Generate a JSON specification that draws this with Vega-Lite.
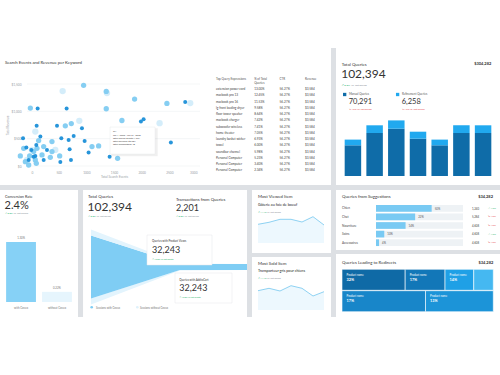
{
 "$schema": "https://vega.github.io/schema/vega-lite/v6.json",
 "padding": 0,
 "background": "#dde0e4",
 "spacing": 5,
 "resolve": {"scale": {"color": "independent", "size": "independent"}},
 "config": {
  "view": {"stroke": null, "fill": "#ffffff"},
  "font": "Lato",
  "text": {"font": "Lato", "align": "left", "baseline": "middle", "color": "#333333"},
  "axis": {"grid": false, "domain": false, "ticks": false, "labelFont": "Lato", "titleFont": "Lato"}
 },
 "vconcat": [
  {"spacing": 0, "resolve": {"scale": {"color": "independent", "size": "independent"}}, "hconcat": [
   {
    "width": 336, "height": 185,
    "resolve": {"scale": {"x": "independent", "y": "independent"}, "axis": {"x": "independent", "y": "independent"}},
    "layer": [
     {"layer": [
      {"data": {"values": [{"v": 0}, {"v": 500}, {"v": 1000}, {"v": 1500}]},
       "mark": {"type": "rule", "color": "#e9ecef", "strokeWidth": 0.5},
       "encoding": {
        "x": {"datum": -72, "type": "quantitative", "scale": {"domain": [0, 3000], "range": [31, 197], "nice": false, "zero": false}},
        "x2": {"datum": 3054},
        "y": {"field": "v", "type": "quantitative", "scale": {"domain": [0, 1500], "range": [166, 84], "nice": false, "zero": false}}
       }},
      {"data": {"values": [
        {"e": 572, "r": 1371, "k": "big"}, {"e": 2878, "r": 1151, "k": "big"}, {"e": 2324, "r": 783, "k": "big"}, {"e": 873, "r": 826, "k": "big"}, {"e": 78, "r": 630, "k": "big"}, {"e": 18, "r": 294, "k": "big"}, {"e": 439, "r": 294, "k": "big"}, {"e": -72, "r": 110, "k": "big"}, {"e": 1373, "r": 1334, "k": "big"},
        {"e": 951, "r": 1475, "k": "mid"}, {"e": 1360, "r": 1365, "k": "mid"}, {"e": 1872, "r": 1224, "k": "mid"}, {"e": 2456, "r": 1144, "k": "mid"}, {"e": -12, "r": 1059, "k": "mid"}, {"e": 1360, "r": 1047, "k": "mid"}, {"e": 1643, "r": 832, "k": "mid"}, {"e": 728, "r": 777, "k": "mid"}, {"e": 620, "r": 734, "k": "mid"}, {"e": 138, "r": 465, "k": "mid"}, {"e": 379, "r": 447, "k": "mid"}, {"e": 229, "r": 355, "k": "mid"}, {"e": -132, "r": 324, "k": "mid"}, {"e": 48, "r": 263, "k": "mid"}, {"e": -193, "r": 184, "k": "mid"}, {"e": -24, "r": 184, "k": "mid"}, {"e": 199, "r": 202, "k": "mid"}, {"e": 349, "r": 159, "k": "mid"}, {"e": 518, "r": 184, "k": "mid"}, {"e": 78, "r": 110, "k": "mid"}, {"e": -102, "r": 80, "k": "mid"}, {"e": 1102, "r": 355, "k": "mid"}, {"e": 1222, "r": 367, "k": "mid"}, {"e": 1565, "r": 141, "k": "mid"}, {"e": -42, "r": 18, "k": "mid"}, {"e": 108, "r": 324, "k": "mid"}, {"e": 379, "r": 263, "k": "mid"}, {"e": 96, "r": 49, "k": "mid"},
        {"e": 2787, "r": 1169, "k": "dot"}, {"e": 120, "r": 1053, "k": "dot"}, {"e": 644, "r": 1053, "k": "dot"}, {"e": 2035, "r": 857, "k": "dot"}, {"e": 1987, "r": 814, "k": "dot"}, {"e": 102, "r": 734, "k": "dot"}, {"e": 470, "r": 734, "k": "dot"}, {"e": 921, "r": 692, "k": "dot"}, {"e": -144, "r": 508, "k": "dot"}, {"e": 169, "r": 539, "k": "dot"}, {"e": 548, "r": 508, "k": "dot"}, {"e": 680, "r": 477, "k": "dot"}, {"e": 771, "r": 551, "k": "dot"}, {"e": 969, "r": 459, "k": "dot"}, {"e": -84, "r": 337, "k": "dot"}, {"e": 96, "r": 386, "k": "dot"}, {"e": 698, "r": 306, "k": "dot"}, {"e": 1041, "r": 245, "k": "dot"}, {"e": 1421, "r": 171, "k": "dot"}, {"e": 722, "r": 110, "k": "dot"}, {"e": 530, "r": 73, "k": "dot"}, {"e": 2528, "r": 428, "k": "dot"}, {"e": 48, "r": 171, "k": "dot"}, {"e": 229, "r": 110, "k": "dot"}, {"e": 6, "r": 294, "k": "dot"}, {"e": 78, "r": 184, "k": "dot"}, {"e": 289, "r": 294, "k": "dot"}, {"e": -42, "r": 110, "k": "dot"}
       ]},
       "mark": {"type": "circle", "opacity": 0.95, "clip": true},
       "encoding": {
        "x": {"field": "e", "type": "quantitative", "scale": {"domain": [0, 3000], "range": [31, 197], "nice": false, "zero": false},
              "axis": {"values": [0, 500, 1000, 1500, 2000, 2500, 3000], "format": "d", "offset": -16, "labelPadding": 1, "labelFontSize": 3.2, "labelColor": "#9aa0a6", "title": "Total Search Events", "titleFontSize": 3.2, "titleColor": "#9aa0a6", "titleFontWeight": "normal", "titlePadding": 1}},
        "y": {"field": "r", "type": "quantitative", "scale": {"domain": [0, 1500], "range": [166, 84], "nice": false, "zero": false},
              "axis": {"values": [0, 500, 1000, 1500], "format": "$,d", "offset": -22, "labelPadding": 1, "labelFontSize": 3.2, "labelColor": "#9aa0a6", "title": "Total Revenue", "titleFontSize": 3.2, "titleColor": "#9aa0a6", "titleFontWeight": "normal", "titlePadding": 2}},
        "color": {"field": "k", "type": "nominal", "scale": {"domain": ["big", "mid", "dot"], "range": ["#d2ecfa", "#7fcbf1", "#1b8fd8"]}, "legend": null},
        "size": {"field": "k", "type": "ordinal", "scale": {"domain": ["big", "mid", "dot"], "range": [40, 16, 5]}, "legend": null}
       }},
      {"data": {"values": [{}]},
       "mark": {"type": "rect", "fill": "#000000", "opacity": 0.06},
       "encoding": {
        "x": {"datum": 1450, "type": "quantitative", "scale": {"domain": [0, 3000], "range": [31, 197], "nice": false, "zero": false}},
        "x2": {"datum": 2290},
        "y": {"datum": 180, "type": "quantitative", "scale": {"domain": [0, 1500], "range": [166, 84], "nice": false, "zero": false}},
        "y2": {"datum": 690}
       }},
      {"data": {"values": [{}]},
       "mark": {"type": "rect", "fill": "#ffffff", "stroke": "#e3e6e9", "strokeWidth": 0.4},
       "encoding": {
        "x": {"datum": 1428, "type": "quantitative", "scale": {"domain": [0, 3000], "range": [31, 197], "nice": false, "zero": false}},
        "x2": {"datum": 2241},
        "y": {"datum": 219, "type": "quantitative", "scale": {"domain": [0, 1500], "range": [166, 84], "nice": false, "zero": false}},
        "y2": {"datum": 713}
       }},
      {"data": {"values": [{}]},
       "mark": {"type": "rect", "fill": "#dde0e4"},
       "encoding": {
        "x": {"datum": 5422, "type": "quantitative", "scale": {"domain": [0, 3000], "range": [31, 197], "nice": false, "zero": false}},
        "x2": {"datum": 5512},
        "y": {"datum": -347, "type": "quantitative", "scale": {"domain": [0, 1500], "range": [166, 84], "nice": false, "zero": false}},
        "y2": {"datum": 2159}
       }},
      {"data": {"values": [{"t": "GA\n\nJan 1, 2020 - Jan 31, 2020\nTotal Search Events   1,234\nTotal Revenue   $3,584\nTotal Transactions   48"}]},
       "mark": {"type": "text", "fontSize": 2.4, "lineHeight": 3.2, "lineBreak": "\n", "baseline": "top", "color": "#444444"},
       "encoding": {
        "x": {"datum": 1480, "type": "quantitative", "scale": {"domain": [0, 3000], "range": [31, 197], "nice": false, "zero": false}},
        "y": {"datum": 650, "type": "quantitative", "scale": {"domain": [0, 1500], "range": [166, 84], "nice": false, "zero": false}},
        "text": {"field": "t"}
       }},
      {"data": {"values": [{"t": "Search Events and Revenue per Keyword"}]},
       "mark": {"type": "text", "fontSize": 4.3, "color": "#333333"},
       "encoding": {
        "x": {"datum": -470, "type": "quantitative", "scale": {"domain": [0, 3000], "range": [31, 197], "nice": false, "zero": false}},
        "y": {"datum": 1884, "type": "quantitative", "scale": {"domain": [0, 1500], "range": [166, 84], "nice": false, "zero": false}},
        "text": {"field": "t"}
       }}
     ]},
     {"layer": [
      {"data": {"values": [{"rank": 0, "c": "name", "t": "Top Query Expressions"}, {"rank": 0, "c": "pct", "t": "% of Total\nQueries"}, {"rank": 0, "c": "ctr", "t": "CTR"}, {"rank": 0, "c": "rev", "t": "Revenue"}]},
       "mark": {"type": "text", "fontSize": 3, "color": "#555555", "baseline": "top", "dy": -4.6, "lineBreak": "\n", "lineHeight": 3.4},
       "encoding": {
        "x": {"field": "c", "type": "nominal", "scale": {"type": "point", "domain": ["name", "s1", "s2", "pct", "s3", "ctr", "s4", "rev"], "range": [216, 305], "padding": 0}, "axis": null},
        "y": {"field": "rank", "type": "ordinal", "scale": {"type": "point", "domain": [0, 1, 2, 3, 4, 5, 6, 7, 8, 9, 10, 11, 12, 13, 14], "range": [83, 170.3], "padding": 0}, "axis": null},
        "text": {"field": "t"}
       }},
      {"data": {"values": [
        {"rank": 1, "name": "extension power cord", "pct": "13.00%", "ctr": "56.27%", "rev": "$3,584"},
        {"rank": 2, "name": "macbook pro 13", "pct": "12.45%", "ctr": "56.27%", "rev": "$3,584"},
        {"rank": 3, "name": "macbook pro 16", "pct": "11.53%", "ctr": "56.27%", "rev": "$3,584"},
        {"rank": 4, "name": "lg front loading dryer", "pct": "9.58%", "ctr": "56.27%", "rev": "$3,584"},
        {"rank": 5, "name": "floor tower speaker", "pct": "8.64%", "ctr": "56.27%", "rev": "$3,584"},
        {"rank": 6, "name": "macbook charger", "pct": "7.42%", "ctr": "56.27%", "rev": "$3,584"},
        {"rank": 7, "name": "subwoofer wireless", "pct": "7.41%", "ctr": "56.27%", "rev": "$3,584"},
        {"rank": 8, "name": "home theater", "pct": "7.05%", "ctr": "56.27%", "rev": "$3,584"},
        {"rank": 9, "name": "laundry basket wicker", "pct": "6.93%", "ctr": "56.27%", "rev": "$3,584"},
        {"rank": 10, "name": "towel", "pct": "6.00%", "ctr": "56.27%", "rev": "$3,584"},
        {"rank": 11, "name": "soundbar channel", "pct": "5.98%", "ctr": "56.27%", "rev": "$3,584"},
        {"rank": 12, "name": "Personal Computer", "pct": "5.23%", "ctr": "56.27%", "rev": "$3,584"},
        {"rank": 13, "name": "Personal Computer", "pct": "3.40%", "ctr": "56.27%", "rev": "$3,584"},
        {"rank": 14, "name": "Personal Computer", "pct": "2.34%", "ctr": "56.27%", "rev": "$3,584"}
       ]},
       "transform": [{"fold": ["name", "pct", "ctr", "rev"], "as": ["c", "t"]}],
       "mark": {"type": "text", "fontSize": 3.1, "color": "#444444"},
       "encoding": {
        "x": {"field": "c", "type": "nominal", "scale": {"type": "point", "domain": ["name", "s1", "s2", "pct", "s3", "ctr", "s4", "rev"], "range": [216, 305], "padding": 0}, "axis": null},
        "y": {"field": "rank", "type": "ordinal", "scale": {"type": "point", "domain": [0, 1, 2, 3, 4, 5, 6, 7, 8, 9, 10, 11, 12, 13, 14], "range": [83, 170.3], "padding": 0}, "axis": null},
        "text": {"field": "t"}
       }}
     ]}
    ]
   },
   {
    "width": 164, "height": 185,
    "layer": [
     {"data": {"values": [
       {"d": "Mon", "t": "Manual Queries", "q": 7675, "o": 1}, {"d": "Mon", "t": "Refinement Queries", "q": 1425, "o": 2},
       {"d": "Tue", "t": "Manual Queries", "q": 10750, "o": 1}, {"d": "Tue", "t": "Refinement Queries", "q": 1925, "o": 2},
       {"d": "Wed", "t": "Manual Queries", "q": 11825, "o": 1}, {"d": "Wed", "t": "Refinement Queries", "q": 2075, "o": 2},
       {"d": "Thu", "t": "Manual Queries", "q": 9325, "o": 1}, {"d": "Thu", "t": "Refinement Queries", "q": 1750, "o": 2},
       {"d": "Fri", "t": "Manual Queries", "q": 7675, "o": 1}, {"d": "Fri", "t": "Refinement Queries", "q": 1425, "o": 2},
       {"d": "Sat", "t": "Manual Queries", "q": 10750, "o": 1}, {"d": "Sat", "t": "Refinement Queries", "q": 1925, "o": 2},
       {"d": "Sun", "t": "Manual Queries", "q": 10750, "o": 1}, {"d": "Sun", "t": "Refinement Queries", "q": 1925, "o": 2}
      ]},
      "mark": {"type": "bar"},
      "encoding": {
       "x": {"field": "d", "type": "ordinal", "scale": {"type": "band", "domain": ["Mon", "Tue", "Wed", "Thu", "Fri", "Sat", "Sun"], "paddingInner": 0.24, "paddingOuter": 0.4}, "axis": null},
       "y": {"field": "q", "type": "quantitative", "stack": "zero", "scale": {"domain": [-2250, 44000], "nice": false, "zero": false}, "axis": null},
       "color": {"field": "t", "type": "nominal", "scale": {"domain": ["Manual Queries", "Refinement Queries"], "range": ["#0f6ca8", "#21a9ef"]}, "legend": null},
       "order": {"field": "o", "type": "quantitative"}
      }},
     {"data": {"values": [{"t": "Total Queries"}]}, "mark": {"type": "text", "fontSize": 4.3, "dx": -3},
      "encoding": {"x": {"datum": "Mon", "type": "ordinal", "bandPosition": 0}, "y": {"datum": 27750, "type": "quantitative"}, "text": {"field": "t"}}},
     {"data": {"values": [{"t": "$304,282"}]}, "mark": {"type": "text", "fontSize": 4, "fontWeight": "bold", "align": "right"},
      "encoding": {"x": {"datum": "Sun", "type": "ordinal", "bandPosition": 1}, "y": {"datum": 28000, "type": "quantitative"}, "text": {"field": "t"}}},
     {"data": {"values": [{"t": "102,394"}]}, "mark": {"type": "text", "fontSize": 12, "dx": -3.5},
      "encoding": {"x": {"datum": "Mon", "type": "ordinal", "bandPosition": 0}, "y": {"datum": 25500, "type": "quantitative"}, "text": {"field": "t"}}},
     {"data": {"values": [{"t": "↗ 8.8%"}]}, "mark": {"type": "text", "fontSize": 2.6, "dx": -3, "color": "#2db36e"},
      "encoding": {"x": {"datum": "Mon", "type": "ordinal", "bandPosition": 0}, "y": {"datum": 22925, "type": "quantitative"}, "text": {"field": "t"}}},
     {"data": {"values": [{"t": "vs. last period"}]}, "mark": {"type": "text", "fontSize": 2.6, "dx": 6.5, "color": "#8a9096"},
      "encoding": {"x": {"datum": "Mon", "type": "ordinal", "bandPosition": 0}, "y": {"datum": 22925, "type": "quantitative"}, "text": {"field": "t"}}},
     {"data": {"values": [{"t": "Manual Queries"}]}, "mark": {"type": "square", "size": 11, "filled": true, "opacity": 1, "color": "#0f6ca8", "dx": 0.3},
      "encoding": {"x": {"datum": "Mon", "type": "ordinal", "bandPosition": 0}, "y": {"datum": 20375, "type": "quantitative"}}},
     {"data": {"values": [{"t": "Refinement Queries"}]}, "mark": {"type": "square", "size": 11, "filled": true, "opacity": 1, "color": "#21a9ef"},
      "encoding": {"x": {"datum": "Wed", "type": "ordinal", "bandPosition": 0.58}, "y": {"datum": 20375, "type": "quantitative"}}},
     {"data": {"values": [{"t": "Manual Queries"}]}, "mark": {"type": "text", "fontSize": 2.9, "dx": 4.3, "color": "#555555"},
      "encoding": {"x": {"datum": "Mon", "type": "ordinal", "bandPosition": 0}, "y": {"datum": 20500, "type": "quantitative"}, "text": {"field": "t"}}},
     {"data": {"values": [{"t": "Refinement Queries"}]}, "mark": {"type": "text", "fontSize": 2.9, "dx": 4.3, "color": "#555555"},
      "encoding": {"x": {"datum": "Wed", "type": "ordinal", "bandPosition": 0.58}, "y": {"datum": 20500, "type": "quantitative"}, "text": {"field": "t"}}},
     {"data": {"values": [{"t": "70,291"}]}, "mark": {"type": "text", "fontSize": 7.5, "dx": 4},
      "encoding": {"x": {"datum": "Mon", "type": "ordinal", "bandPosition": 0}, "y": {"datum": 18425, "type": "quantitative"}, "text": {"field": "t"}}},
     {"data": {"values": [{"t": "6,258"}]}, "mark": {"type": "text", "fontSize": 7.5, "dx": 4},
      "encoding": {"x": {"datum": "Wed", "type": "ordinal", "bandPosition": 0.58}, "y": {"datum": 18425, "type": "quantitative"}, "text": {"field": "t"}}},
     {"data": {"values": [{"t": "↘ 1.5% vs. last period"}]}, "mark": {"type": "text", "fontSize": 2.4, "dx": 4.3, "color": "#e5484d"},
      "encoding": {"x": {"datum": "Mon", "type": "ordinal", "bandPosition": 0}, "y": {"datum": 16675, "type": "quantitative"}, "text": {"field": "t"}}},
     {"data": {"values": [{"t": "↘ 1.5% vs. last period"}]}, "mark": {"type": "text", "fontSize": 2.4, "dx": 4.3, "color": "#e5484d"},
      "encoding": {"x": {"datum": "Wed", "type": "ordinal", "bandPosition": 0.58}, "y": {"datum": 16675, "type": "quantitative"}, "text": {"field": "t"}}}
    ]
   }
  ]},
  {"spacing": 0, "resolve": {"scale": {"color": "independent", "size": "independent"}}, "hconcat": [
   {
    "width": 78, "height": 185,
    "layer": [
     {"data": {"values": [{"c": "with Coveo", "v": 1.30, "lbl": "1.30%"}, {"c": "without Coveo", "v": 0.22, "lbl": "0.22%"}]},
      "mark": {"type": "bar"},
      "encoding": {
       "x": {"field": "c", "type": "nominal", "scale": {"type": "band", "domain": ["with Coveo", "without Coveo"], "paddingInner": 0.17, "paddingOuter": 0.17},
             "axis": {"orient": "bottom", "offset": -70, "labelPadding": 1.5, "labelFontSize": 2.8, "labelColor": "#777777", "title": null, "labelAngle": 0}},
       "y": {"field": "v", "type": "quantitative", "scale": {"domain": [-1.582, 2.427], "nice": false, "zero": false}, "axis": null},
       "color": {"field": "c", "type": "nominal", "scale": {"domain": ["with Coveo", "without Coveo"], "range": ["#86d1f6", "#e6f5fd"]}, "legend": null}
      }},
     {"data": {"values": [{"c": "with Coveo", "v": 1.30, "lbl": "1.30%"}, {"c": "without Coveo", "v": 0.22, "lbl": "0.22%"}]},
      "mark": {"type": "text", "fontSize": 2.8, "color": "#777777", "align": "center", "baseline": "bottom", "dy": -2.5},
      "encoding": {"x": {"field": "c", "type": "nominal"}, "y": {"field": "v", "type": "quantitative"}, "text": {"field": "lbl"}}},
     {"data": {"values": [{"t": "Conversion Rate"}]}, "mark": {"type": "text", "fontSize": 3.8, "dx": -1},
      "encoding": {"x": {"datum": "with Coveo", "type": "nominal", "bandPosition": 0}, "y": {"datum": 2.269, "type": "quantitative"}, "text": {"field": "t"}}},
     {"data": {"values": [{"t": "2.4%"}]}, "mark": {"type": "text", "fontSize": 11, "dx": -1.5},
      "encoding": {"x": {"datum": "with Coveo", "type": "nominal", "bandPosition": 0}, "y": {"datum": 2.084, "type": "quantitative"}, "text": {"field": "t"}}},
     {"data": {"values": [{"t": "↗ 8.8%"}]}, "mark": {"type": "text", "fontSize": 2.4, "dx": -1, "color": "#2db36e"},
      "encoding": {"x": {"datum": "with Coveo", "type": "nominal", "bandPosition": 0}, "y": {"datum": 1.922, "type": "quantitative"}, "text": {"field": "t"}}},
     {"data": {"values": [{"t": "vs. last period"}]}, "mark": {"type": "text", "fontSize": 2.4, "dx": 7.5, "color": "#8a9096"},
      "encoding": {"x": {"datum": "with Coveo", "type": "nominal", "bandPosition": 0}, "y": {"datum": 1.922, "type": "quantitative"}, "text": {"field": "t"}}}
    ]
   },
   {
    "width": 169, "height": 185,
    "layer": [
     {"data": {"values": [
       {"s": 0, "p": "without (upper)", "v": 6, "o": 1}, {"s": 0, "p": "with", "v": 63, "o": 2}, {"s": 0, "p": "without (lower)", "v": 6, "o": 3},
       {"s": 1.14, "p": "without (upper)", "v": 0.5, "o": 1}, {"s": 1.14, "p": "with", "v": 6, "o": 2}, {"s": 1.14, "p": "without (lower)", "v": 0.5, "o": 3},
       {"s": 2, "p": "without (upper)", "v": 0, "o": 1}, {"s": 2, "p": "with", "v": 6, "o": 2}, {"s": 2, "p": "without (lower)", "v": 0, "o": 3}
      ]},
      "mark": {"type": "area"},
      "encoding": {
       "x": {"field": "s", "type": "quantitative", "scale": {"domain": [0, 2], "range": [13, 169], "nice": false, "zero": false}, "axis": null},
       "y": {"field": "v", "type": "quantitative", "stack": "center", "scale": {"domain": [-70.5, 114.5], "nice": false, "zero": false}, "axis": null},
       "color": {"field": "p", "type": "nominal", "scale": {"domain": ["without (upper)", "with", "without (lower)"], "range": ["#e3f4fd", "#7fcdf4", "#e3f4fd"]}, "legend": null},
       "order": {"field": "o", "type": "quantitative"}
      }},
     {"data": {"values": [{}]}, "mark": {"type": "rect", "fill": "#dde0e4"},
      "encoding": {"x": {"datum": -0.1666, "type": "quantitative"}, "x2": {"datum": -0.102}, "y": {"datum": -12.5, "type": "quantitative"}, "y2": {"datum": 114.5}}},
     {"data": {"values": [{}]}, "mark": {"type": "rect", "fill": "#ffffff", "stroke": "#e4e7ea", "strokeWidth": 0.5},
      "encoding": {"x": {"datum": 0.718, "type": "quantitative"}, "x2": {"datum": 1.551}, "y": {"datum": 69.5, "type": "quantitative"}, "y2": {"datum": 39.5}}},
     {"data": {"values": [{}]}, "mark": {"type": "rect", "fill": "#ffffff", "stroke": "#e4e7ea", "strokeWidth": 0.5},
      "encoding": {"x": {"datum": 1.077, "type": "quantitative"}, "x2": {"datum": 1.808}, "y": {"datum": 31.5, "type": "quantitative"}, "y2": {"datum": 1.5}}},
     {"data": {"values": [{"t": "Total Queries"}]}, "mark": {"type": "text", "fontSize": 4.3},
      "encoding": {"x": {"datum": -0.038, "type": "quantitative"}, "y": {"datum": 107.8, "type": "quantitative"}, "text": {"field": "t"}}},
     {"data": {"values": [{"t": "102,394"}]}, "mark": {"type": "text", "fontSize": 12, "dx": -0.5},
      "encoding": {"x": {"datum": -0.038, "type": "quantitative"}, "y": {"datum": 97.2, "type": "quantitative"}, "text": {"field": "t"}}},
     {"data": {"values": [{"t": "↗ 8.8%"}]}, "mark": {"type": "text", "fontSize": 2.4, "color": "#2db36e"},
      "encoding": {"x": {"datum": -0.038, "type": "quantitative"}, "y": {"datum": 87.8, "type": "quantitative"}, "text": {"field": "t"}}},
     {"data": {"values": [{"t": "vs. last period"}]}, "mark": {"type": "text", "fontSize": 2.4, "dx": 8.5, "color": "#8a9096"},
      "encoding": {"x": {"datum": -0.038, "type": "quantitative"}, "y": {"datum": 87.8, "type": "quantitative"}, "text": {"field": "t"}}},
     {"data": {"values": [{"t": "Transactions from Queries"}]}, "mark": {"type": "text", "fontSize": 4.3},
      "encoding": {"x": {"datum": 1.09, "type": "quantitative"}, "y": {"datum": 104.5, "type": "quantitative"}, "text": {"field": "t"}}},
     {"data": {"values": [{"t": "2,201"}]}, "mark": {"type": "text", "fontSize": 9},
      "encoding": {"x": {"datum": 1.09, "type": "quantitative"}, "y": {"datum": 96.2, "type": "quantitative"}, "text": {"field": "t"}}},
     {"data": {"values": [{"t": "↗ 8.8%"}]}, "mark": {"type": "text", "fontSize": 2.4, "color": "#2db36e"},
      "encoding": {"x": {"datum": 1.09, "type": "quantitative"}, "y": {"datum": 87.8, "type": "quantitative"}, "text": {"field": "t"}}},
     {"data": {"values": [{"t": "vs. last period"}]}, "mark": {"type": "text", "fontSize": 2.4, "dx": 8.5, "color": "#8a9096"},
      "encoding": {"x": {"datum": 1.09, "type": "quantitative"}, "y": {"datum": 87.8, "type": "quantitative"}, "text": {"field": "t"}}},
     {"data": {"values": [{"t": "Queries with Product Views"}]}, "mark": {"type": "text", "fontSize": 2.8},
      "encoding": {"x": {"datum": 0.782, "type": "quantitative"}, "y": {"datum": 63.8, "type": "quantitative"}, "text": {"field": "t"}}},
     {"data": {"values": [{"t": "32,243"}]}, "mark": {"type": "text", "fontSize": 9},
      "encoding": {"x": {"datum": 0.782, "type": "quantitative"}, "y": {"datum": 54.5, "type": "quantitative"}, "text": {"field": "t"}}},
     {"data": {"values": [{"t": "↗ 12.8% vs last month"}]}, "mark": {"type": "text", "fontSize": 2.2, "color": "#2db36e"},
      "encoding": {"x": {"datum": 0.782, "type": "quantitative"}, "y": {"datum": 45.2, "type": "quantitative"}, "text": {"field": "t"}}},
     {"data": {"values": [{"t": "Queries with AddtoCart"}]}, "mark": {"type": "text", "fontSize": 2.8},
      "encoding": {"x": {"datum": 1.132, "type": "quantitative"}, "y": {"datum": 25.2, "type": "quantitative"}, "text": {"field": "t"}}},
     {"data": {"values": [{"t": "32,243"}]}, "mark": {"type": "text", "fontSize": 9},
      "encoding": {"x": {"datum": 1.132, "type": "quantitative"}, "y": {"datum": 16.2, "type": "quantitative"}, "text": {"field": "t"}}},
     {"data": {"values": [{"t": "↗ 12.8% vs last month"}]}, "mark": {"type": "text", "fontSize": 2.2, "color": "#2db36e"},
      "encoding": {"x": {"datum": 1.132, "type": "quantitative"}, "y": {"datum": 7.2, "type": "quantitative"}, "text": {"field": "t"}}},
     {"data": {"values": [{"t": "Sessions with Coveo"}]}, "mark": {"type": "circle", "size": 7, "color": "#7fcdf4", "opacity": 1},
      "encoding": {"x": {"datum": 0.009, "type": "quantitative"}, "y": {"datum": -2.8, "type": "quantitative"}}},
     {"data": {"values": [{"t": "Sessions without Coveo"}]}, "mark": {"type": "circle", "size": 7, "color": "#dff1fb", "opacity": 1},
      "encoding": {"x": {"datum": 0.594, "type": "quantitative"}, "y": {"datum": -2.8, "type": "quantitative"}}},
     {"data": {"values": [{"t": "Sessions with Coveo"}]}, "mark": {"type": "text", "fontSize": 2.7, "color": "#777777"},
      "encoding": {"x": {"datum": 0.064, "type": "quantitative"}, "y": {"datum": -2.8, "type": "quantitative"}, "text": {"field": "t"}}},
     {"data": {"values": [{"t": "Sessions without Coveo"}]}, "mark": {"type": "text", "fontSize": 2.7, "color": "#777777"},
      "encoding": {"x": {"datum": 0.628, "type": "quantitative"}, "y": {"datum": -2.8, "type": "quantitative"}, "text": {"field": "t"}}}
    ]
   },
   {"spacing": 4, "resolve": {"scale": {"color": "independent", "size": "independent"}}, "vconcat": [
    {
     "width": 89, "height": 63,
     "layer": [
      {"data": {"values": [{"i": 0, "v": 18.7}, {"i": 1, "v": 20.7}, {"i": 2, "v": 23.7}, {"i": 3, "v": 23.7}, {"i": 4, "v": 21}, {"i": 5, "v": 26.3}, {"i": 6, "v": 18}]},
       "mark": {"type": "area", "color": "#e6f5fd", "line": {"color": "#74c7ef", "strokeWidth": 0.8}},
       "encoding": {
        "x": {"field": "i", "type": "quantitative", "scale": {"domain": [0, 6], "range": [11, 77], "nice": false, "zero": false}, "axis": null},
        "y": {"field": "v", "type": "quantitative", "scale": {"domain": [-10, 53], "nice": false, "zero": false}, "axis": null}
       }},
      {"data": {"values": [{}]}, "mark": {"type": "rect", "fill": "#dde0e4"},
       "encoding": {"x": {"datum": -0.9995, "type": "quantitative"}, "x2": {"datum": -0.545}, "y": {"datum": -10, "type": "quantitative"}, "y2": {"datum": 53}}},
      {"data": {"values": [{}]}, "mark": {"type": "rect", "fill": "#dde0e4"},
       "encoding": {"x": {"datum": 6.636, "type": "quantitative"}, "x2": {"datum": 7.0905}, "y": {"datum": -10, "type": "quantitative"}, "y2": {"datum": 53}}},
      {"data": {"values": [{"t": "Most Viewed Item"}]}, "mark": {"type": "text", "fontSize": 4.3},
       "encoding": {"x": {"datum": 0, "type": "quantitative"}, "y": {"datum": 45.7, "type": "quantitative"}, "text": {"field": "t"}}},
      {"data": {"values": [{"t": "Gâterie au foie de boeuf"}]}, "mark": {"type": "text", "fontSize": 3.7, "color": "#222222"},
       "encoding": {"x": {"datum": 0, "type": "quantitative"}, "y": {"datum": 38, "type": "quantitative"}, "text": {"field": "t"}}},
      {"data": {"values": [{"t": "↗ 14.4%"}]}, "mark": {"type": "text", "fontSize": 2.3, "color": "#2db36e"},
       "encoding": {"x": {"datum": 0, "type": "quantitative"}, "y": {"datum": 30.3, "type": "quantitative"}, "text": {"field": "t"}}},
      {"data": {"values": [{"t": "vs. last period"}]}, "mark": {"type": "text", "fontSize": 2.3, "dx": 9, "color": "#8a9096"},
       "encoding": {"x": {"datum": 0, "type": "quantitative"}, "y": {"datum": 30.3, "type": "quantitative"}, "text": {"field": "t"}}}
     ]
    },
    {
     "width": 89, "height": 118,
     "layer": [
      {"data": {"values": [{"i": 0, "v": 19.3}, {"i": 1, "v": 21.7}, {"i": 2, "v": 19}, {"i": 3, "v": 24.3}, {"i": 4, "v": 21.7}, {"i": 5, "v": 14}, {"i": 6, "v": 18.3}]},
       "mark": {"type": "area", "color": "#e6f5fd", "line": {"color": "#74c7ef", "strokeWidth": 0.8}},
       "encoding": {
        "x": {"field": "i", "type": "quantitative", "scale": {"domain": [0, 6], "range": [11, 77], "nice": false, "zero": false}, "axis": null},
        "y": {"field": "v", "type": "quantitative", "scale": {"domain": [-65, 53], "nice": false, "zero": false}, "axis": null}
       }},
      {"data": {"values": [{}]}, "mark": {"type": "rect", "fill": "#dde0e4"},
       "encoding": {"x": {"datum": -0.9995, "type": "quantitative"}, "x2": {"datum": -0.545}, "y": {"datum": -7, "type": "quantitative"}, "y2": {"datum": 53}}},
      {"data": {"values": [{}]}, "mark": {"type": "rect", "fill": "#dde0e4"},
       "encoding": {"x": {"datum": 6.636, "type": "quantitative"}, "x2": {"datum": 7.0905}, "y": {"datum": -7, "type": "quantitative"}, "y2": {"datum": 53}}},
      {"data": {"values": [{"t": "Most Sold Item"}]}, "mark": {"type": "text", "fontSize": 4.3},
       "encoding": {"x": {"datum": 0, "type": "quantitative"}, "y": {"datum": 46, "type": "quantitative"}, "text": {"field": "t"}}},
      {"data": {"values": [{"t": "Transporteur gris pour chiens"}]}, "mark": {"type": "text", "fontSize": 3.7, "color": "#222222"},
       "encoding": {"x": {"datum": 0, "type": "quantitative"}, "y": {"datum": 39.3, "type": "quantitative"}, "text": {"field": "t"}}},
      {"data": {"values": [{"t": "↗ 14.4%"}]}, "mark": {"type": "text", "fontSize": 2.3, "color": "#2db36e"},
       "encoding": {"x": {"datum": 0, "type": "quantitative"}, "y": {"datum": 31.7, "type": "quantitative"}, "text": {"field": "t"}}},
      {"data": {"values": [{"t": "vs. last period"}]}, "mark": {"type": "text", "fontSize": 2.3, "dx": 9, "color": "#8a9096"},
       "encoding": {"x": {"datum": 0, "type": "quantitative"}, "y": {"datum": 31.7, "type": "quantitative"}, "text": {"field": "t"}}}
     ]
    }
   ]},
   {"spacing": 4, "resolve": {"scale": {"color": "independent", "size": "independent"}}, "vconcat": [
    {
     "width": 164, "height": 60,
     "layer": [
      {"data": {"values": [{"cat": "Chien"}, {"cat": "Chat"}, {"cat": "Nourriture"}, {"cat": "Soins"}, {"cat": "Accessoires"}]},
       "mark": {"type": "bar", "color": "#eef2f5"},
       "encoding": {
        "x": {"datum": 0, "type": "quantitative", "scale": {"domain": [0, 100], "range": [40, 127], "nice": false, "zero": false}, "axis": null},
        "x2": {"datum": 100},
        "y": {"field": "cat", "type": "nominal", "scale": {"type": "band", "domain": ["_", "Chien", "Chat", "Nourriture", "Soins", "Accessoires"], "range": [5.4, 57], "paddingInner": 0.22, "paddingOuter": 0.11}, "axis": null}
       }},
      {"data": {"values": [
        {"cat": "Chien", "pct": 64, "lbl": "50%", "n": "1,240", "ch": "↗ 4.2%", "dir": "up"},
        {"cat": "Chat", "pct": 45, "lbl": "22%", "n": "5,284", "ch": "↘ 1.5%", "dir": "down"},
        {"cat": "Nourriture", "pct": 34, "lbl": "14%", "n": "4,608", "ch": "↘ 1.5%", "dir": "down"},
        {"cat": "Soins", "pct": 9.5, "lbl": "10%", "n": "4,608", "ch": "↗ 4.2%", "dir": "up"},
        {"cat": "Accessoires", "pct": 3.5, "lbl": "4%", "n": "4,608", "ch": "↘ 1.5%", "dir": "down"}
       ]},
       "layer": [
        {"mark": {"type": "bar", "color": "#79caf3"},
         "encoding": {"x": {"field": "pct", "type": "quantitative"}, "y": {"field": "cat", "type": "nominal"}}},
        {"mark": {"type": "text", "fontSize": 2.8, "color": "#555555", "dx": 3},
         "encoding": {"x": {"field": "pct", "type": "quantitative"}, "y": {"field": "cat", "type": "nominal"}, "text": {"field": "lbl"}}},
        {"mark": {"type": "text", "fontSize": 3.1, "color": "#444444"},
         "encoding": {"x": {"datum": -39, "type": "quantitative"}, "y": {"field": "cat", "type": "nominal"}, "text": {"field": "cat"}}},
        {"mark": {"type": "text", "fontSize": 2.8, "color": "#444444", "align": "right"},
         "encoding": {"x": {"datum": 118.4, "type": "quantitative"}, "y": {"field": "cat", "type": "nominal"}, "text": {"field": "n"}}},
        {"mark": {"type": "text", "fontSize": 2.5},
         "encoding": {"x": {"datum": 128.7, "type": "quantitative"}, "y": {"field": "cat", "type": "nominal"}, "text": {"field": "ch"},
          "color": {"field": "dir", "type": "nominal", "scale": {"domain": ["up", "down"], "range": ["#2db36e", "#e5484d"]}, "legend": null}}}
       ]},
      {"data": {"values": [{"t": "Queries from Suggestions"}]}, "mark": {"type": "text", "fontSize": 4.3},
       "encoding": {"x": {"datum": -39, "type": "quantitative"}, "y": {"datum": "_", "type": "nominal", "bandPosition": 0.1}, "text": {"field": "t"}}},
      {"data": {"values": [{"t": "$34,282"}]}, "mark": {"type": "text", "fontSize": 4, "fontWeight": "bold", "align": "right"},
       "encoding": {"x": {"datum": 134.5, "type": "quantitative"}, "y": {"datum": "_", "type": "nominal", "bandPosition": 0.1}, "text": {"field": "t"}}}
     ]
    },
    {
     "width": 164, "height": 121,
     "layer": [
      {"data": {"values": [
        {"row": "A", "i": 1, "w": 62.3, "name": "Product name", "pct": "32%", "c": "a1"},
        {"row": "A", "i": 2, "w": 39.3, "name": "Product name", "pct": "17%", "c": "a2"},
        {"row": "A", "i": 3, "w": 28.3, "name": "Product name", "pct": "14%", "c": "a3"},
        {"row": "A", "i": 4, "w": 19.3, "name": "", "pct": "", "c": "a4"},
        {"row": "B", "i": 1, "w": 83.3, "name": "Product name", "pct": "17%", "c": "b1"},
        {"row": "B", "i": 2, "w": 67.6, "name": "Product name", "pct": "13%", "c": "b2"}
       ]},
       "transform": [{"stack": "w", "groupby": ["row"], "sort": [{"field": "i", "order": "ascending"}], "offset": "normalize", "as": ["s0", "s1"]}],
       "layer": [
        {"mark": {"type": "rect", "stroke": "#ffffff", "strokeWidth": 0.6},
         "encoding": {
          "x": {"field": "s0", "type": "quantitative", "scale": {"domain": [0, 1], "range": [6, 157.3], "nice": false, "zero": false}, "axis": null},
          "x2": {"field": "s1"},
          "y": {"field": "row", "type": "nominal", "scale": {"type": "band", "domain": ["A", "B"], "range": [15.3, 57.7], "paddingInner": 0.02, "paddingOuter": 0}, "axis": null},
          "color": {"field": "c", "type": "nominal", "scale": {"domain": ["a1", "a2", "a3", "a4", "b1", "b2"], "range": ["#0f6aa6", "#1277b8", "#1fa0e6", "#45b8f1", "#1886c9", "#1c94d8"]}, "legend": null}
         }},
        {"mark": {"type": "text", "fontSize": 2.8, "color": "#ffffff", "dx": 4.5, "dy": 5},
         "encoding": {"x": {"field": "s0", "type": "quantitative"}, "y": {"field": "row", "type": "nominal", "bandPosition": 0}, "text": {"field": "name"}}},
        {"mark": {"type": "text", "fontSize": 3.8, "fontWeight": "bold", "color": "#ffffff", "dx": 4.5, "dy": 10.3},
         "encoding": {"x": {"field": "s0", "type": "quantitative"}, "y": {"field": "row", "type": "nominal", "bandPosition": 0}, "text": {"field": "pct"}}}
       ]},
      {"data": {"values": [{"t": "Queries Leading to Redirects"}]}, "mark": {"type": "text", "fontSize": 4.3, "dy": -6},
       "encoding": {"x": {"datum": 0, "type": "quantitative"}, "y": {"datum": "A", "type": "nominal", "bandPosition": 0}, "text": {"field": "t"}}},
      {"data": {"values": [{"t": "$34,282"}]}, "mark": {"type": "text", "fontSize": 4, "fontWeight": "bold", "align": "right", "dy": -6},
       "encoding": {"x": {"datum": 1, "type": "quantitative"}, "y": {"datum": "A", "type": "nominal", "bandPosition": 0}, "text": {"field": "t"}}}
     ]
    }
   ]}
  ]}
 ]
}
